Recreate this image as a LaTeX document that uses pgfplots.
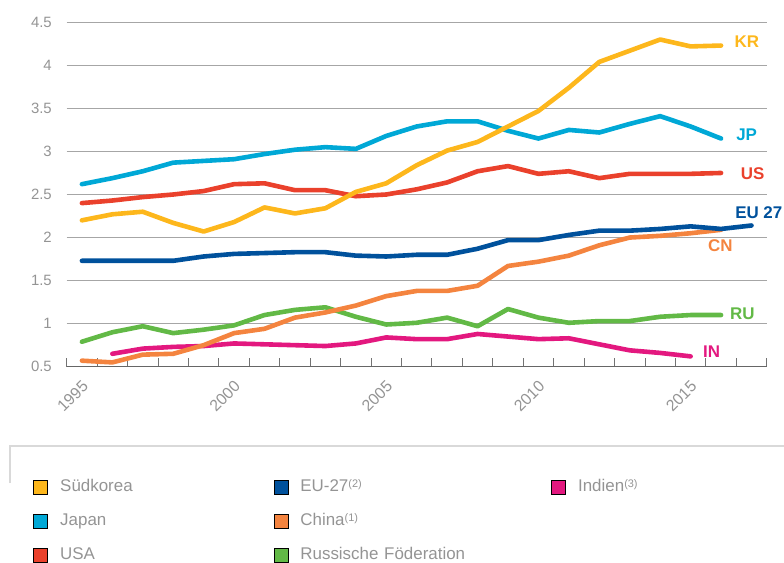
\documentclass[border=0pt]{standalone}
\usepackage{fontspec}
\setmainfont{Liberation Sans}
\usepackage{pgfplots}
\pgfplotsset{compat=1.18}

\definecolor{krc}{HTML}{FDB71C}
\definecolor{jpc}{HTML}{00A8D6}
\definecolor{usc}{HTML}{EA412C}
\definecolor{euc}{HTML}{00519C}
\definecolor{cnc}{HTML}{F4843F}
\definecolor{ruc}{HTML}{62B946}
\definecolor{inc}{HTML}{E3187F}
\definecolor{txtgray}{HTML}{949494}
\definecolor{gridgray}{HTML}{A6A6A6}

\newcommand{\tickfont}{\fontsize{15}{18}\selectfont}
\newcommand{\yearfont}{\fontsize{16}{18}\selectfont}
\newcommand{\legfont}{\fontsize{17}{20}\selectfont}
\newcommand{\labfont}{\fontsize{17}{20}\selectfont\bfseries}
\newcommand{\fn}[1]{\raisebox{4.5bp}{\fontsize{11}{12}\selectfont #1}}

\begin{document}
\begin{tikzpicture}
\path[use as bounding box] (-66.7bp,-196.3bp) rectangle (717.3bp,366.7bp);
% frame line above the legend
\draw[color=black!15, line width=1.5bp] (-56.7bp,-116.3bp) -- (-56.7bp,-79.3bp) -- (717.3bp,-79.3bp);
\begin{axis}[
  at={(0,0)}, anchor=south west,
  scale only axis, width=700bp, height=344.4bp,
  xmin=1994.5, xmax=2017.5, ymin=0.5, ymax=4.5,
  clip=false,
  /pgf/number format/assume math mode=true,
  axis x line*=bottom, axis y line*=left,
  y axis line style={draw=none},
  x axis line style={draw=black!60, line width=1.4bp, -},
  xtick={1994.5,1995.5,1996.5,1997.5,1998.5,1999.5,2000.5,2001.5,2002.5,2003.5,2004.5,2005.5,
         2006.5,2007.5,2008.5,2009.5,2010.5,2011.5,2012.5,2013.5,2014.5,2015.5,2016.5,2017.5},
  xticklabels={},
  xtick align=inside,
  xtick style={draw=black!55, line width=0.9bp},
  major tick length=9bp,
  extra x ticks={1995,2000,2005,2010,2015},
  extra x tick labels={1995,2000,2005,2010,2015},
  extra x tick style={major tick length=0pt, xtick style={draw=none},
    xticklabel style={font=\yearfont, text=txtgray, /tikz/xshift=3.4bp, /tikz/yshift=-17bp,
      rotate=45, anchor=east, inner sep=0pt}},
  ytick={0.5,1,1.5,2,2.5,3,3.5,4,4.5},
  ymajorgrids, grid style={draw=gridgray, line width=1bp},
  ytick style={draw=none},
  yticklabel style={font=\tickfont, text=txtgray, anchor=east, inner sep=0pt, xshift=-14.7bp},
  legend columns=3,
  legend cell align=left,
  legend image code/.code={\fill[#1] (0bp,-7bp) rectangle (14bp,7bp);},
  legend style={at={(axis description cs:-0.0477,-0.327)}, anchor=north west,
    draw=none, fill=none, inner sep=0pt, outer sep=0pt,
    font=\legfont, text=txtgray, row sep=18bp,
    nodes={inner sep=0pt, text height=12.5bp, text depth=3.5bp},
    /tikz/column 1/.style={column sep=12.5bp},
    /tikz/column 2/.style={text width=200bp, column sep=13.3bp},
    /tikz/column 3/.style={column sep=12.5bp},
    /tikz/column 4/.style={text width=237bp, column sep=13.3bp},
    /tikz/column 5/.style={column sep=13bp}},
  ser/.style={line width=4.6bp, line join=round, line cap=round},
]
% Indien
\addplot[forget plot, ser, color=inc] coordinates {
(1996,0.65) (1997,0.71) (1998,0.73) (1999,0.74) (2000,0.77) (2001,0.76) (2002,0.75)
(2003,0.74) (2004,0.77) (2005,0.84) (2006,0.82) (2007,0.82) (2008,0.88) (2009,0.85)
(2010,0.82) (2011,0.83) (2012,0.76) (2013,0.69) (2014,0.66) (2015,0.62)};
% Russische Foederation
\addplot[forget plot, ser, color=ruc] coordinates {
(1995,0.79) (1996,0.90) (1997,0.97) (1998,0.89) (1999,0.93) (2000,0.98) (2001,1.10)
(2002,1.16) (2003,1.19) (2004,1.08) (2005,0.99) (2006,1.01) (2007,1.07) (2008,0.97)
(2009,1.17) (2010,1.07) (2011,1.01) (2012,1.03) (2013,1.03) (2014,1.08) (2015,1.10) (2016,1.10)};
% China
\addplot[forget plot, ser, color=cnc] coordinates {
(1995,0.57) (1996,0.55) (1997,0.64) (1998,0.65) (1999,0.75) (2000,0.89) (2001,0.94)
(2002,1.07) (2003,1.13) (2004,1.21) (2005,1.32) (2006,1.38) (2007,1.38) (2008,1.44)
(2009,1.67) (2010,1.72) (2011,1.79) (2012,1.91) (2013,2.00) (2014,2.02) (2015,2.05) (2016,2.09)};
% EU-27
\addplot[forget plot, ser, color=euc] coordinates {
(1995,1.73) (1996,1.73) (1997,1.73) (1998,1.73) (1999,1.78) (2000,1.81) (2001,1.82)
(2002,1.83) (2003,1.83) (2004,1.79) (2005,1.78) (2006,1.80) (2007,1.80) (2008,1.87)
(2009,1.97) (2010,1.97) (2011,2.03) (2012,2.08) (2013,2.08) (2014,2.10) (2015,2.13)
(2016,2.10) (2017,2.14)};
% USA
\addplot[forget plot, ser, color=usc] coordinates {
(1995,2.40) (1996,2.43) (1997,2.47) (1998,2.50) (1999,2.54) (2000,2.62) (2001,2.63)
(2002,2.55) (2003,2.55) (2004,2.48) (2005,2.50) (2006,2.56) (2007,2.64) (2008,2.77)
(2009,2.83) (2010,2.74) (2011,2.77) (2012,2.69) (2013,2.74) (2014,2.74) (2015,2.74) (2016,2.75)};
% Japan
\addplot[forget plot, ser, color=jpc] coordinates {
(1995,2.62) (1996,2.69) (1997,2.77) (1998,2.87) (1999,2.89) (2000,2.91) (2001,2.97)
(2002,3.02) (2003,3.05) (2004,3.03) (2005,3.18) (2006,3.29) (2007,3.35) (2008,3.35)
(2009,3.24) (2010,3.15) (2011,3.25) (2012,3.22) (2013,3.32) (2014,3.41) (2015,3.29) (2016,3.15)};
% Suedkorea
\addplot[forget plot, ser, color=krc] coordinates {
(1995,2.20) (1996,2.27) (1997,2.30) (1998,2.17) (1999,2.07) (2000,2.18) (2001,2.35)
(2002,2.28) (2003,2.34) (2004,2.53) (2005,2.63) (2006,2.84) (2007,3.01) (2008,3.11)
(2009,3.29) (2010,3.47) (2011,3.74) (2012,4.04) (2013,4.17) (2014,4.30) (2015,4.22) (2016,4.23)};

\node[font=\labfont, text=krc] at (axis cs:2016.85,4.27) {KR};
\node[font=\labfont, text=jpc] at (axis cs:2016.84,3.19) {JP};
\node[font=\labfont, text=usc] at (axis cs:2017.04,2.74) {US};
\node[font=\labfont, text=euc] at (axis cs:2017.24,2.29) {EU 27};
\node[font=\labfont, text=cnc] at (axis cs:2015.98,1.90) {CN};
\node[font=\labfont, text=ruc] at (axis cs:2016.70,1.12) {RU};
\node[font=\labfont, text=inc] at (axis cs:2015.69,0.67) {IN};

\addlegendimage{fill=krc}
\addlegendentry{Südkorea}
\addlegendimage{fill=euc}
\addlegendentry{EU-27\fn{(2)}}
\addlegendimage{fill=inc}
\addlegendentry{Indien\fn{(3)}}
\addlegendimage{fill=jpc}
\addlegendentry{Japan}
\addlegendimage{fill=cnc}
\addlegendentry{China\fn{(1)}}
\addlegendimage{empty legend}
\addlegendentry{}
\addlegendimage{fill=usc}
\addlegendentry{USA}
\addlegendimage{fill=ruc}
\addlegendentry{Russische Föderation}
\end{axis}
\end{tikzpicture}
\end{document}
